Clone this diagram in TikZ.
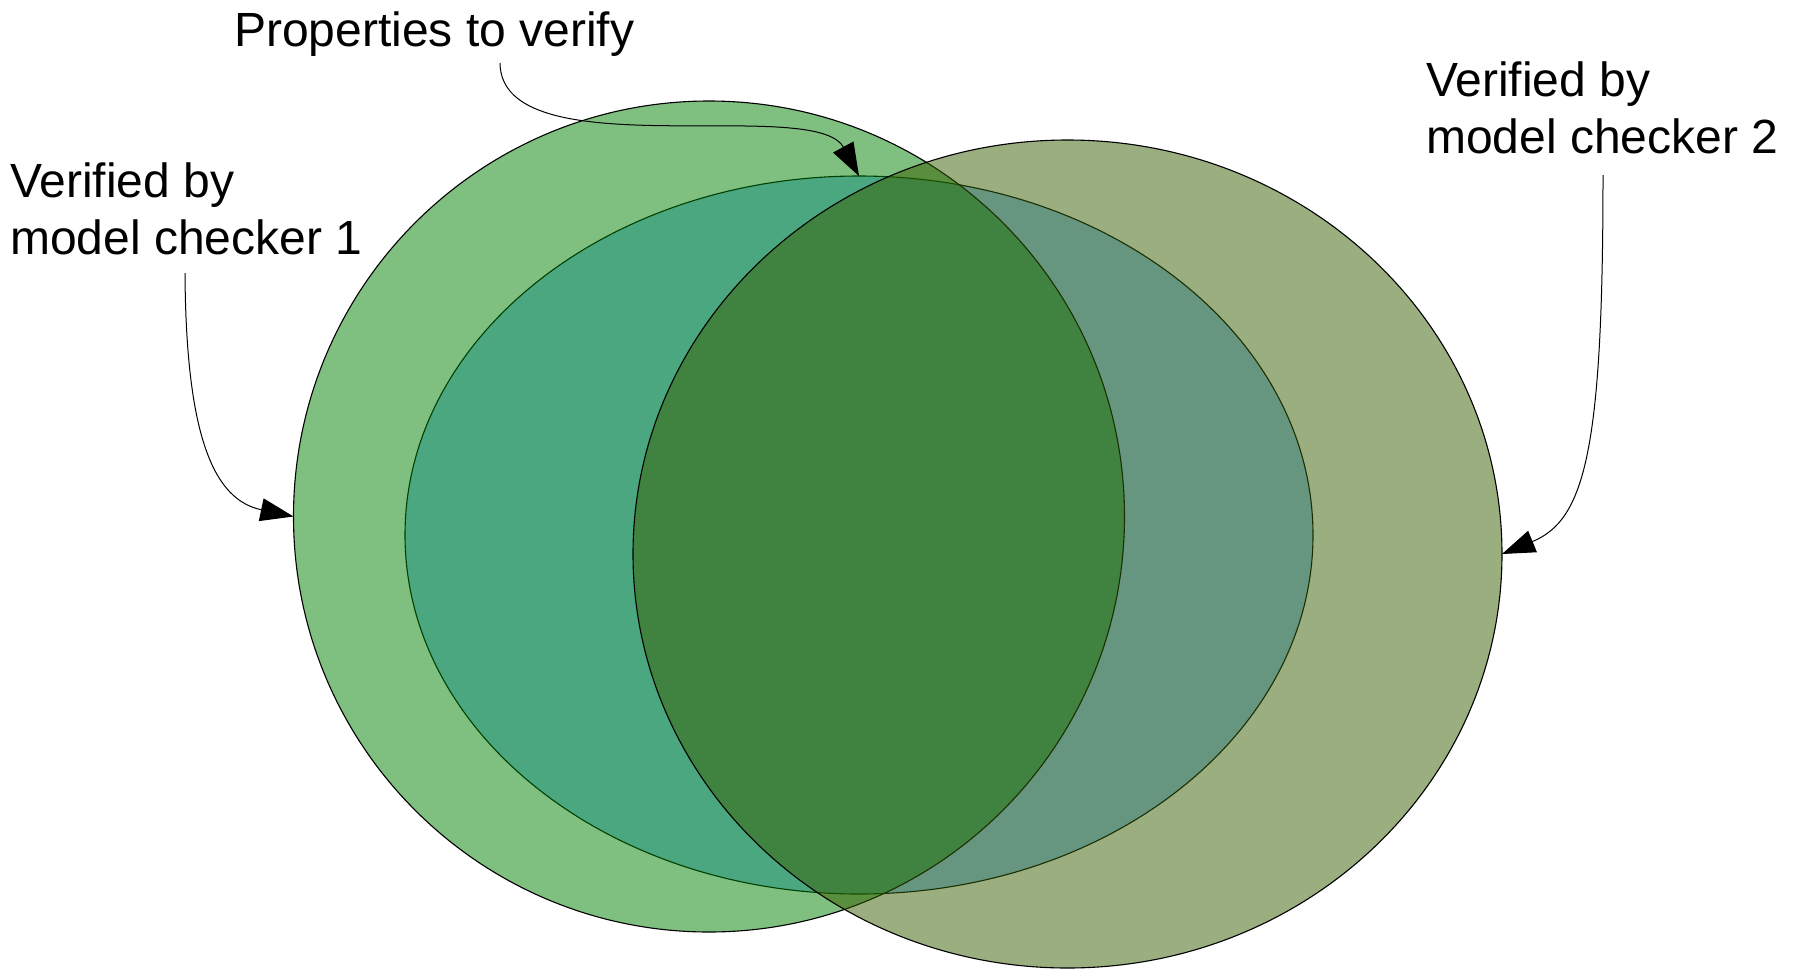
\documentclass[tikz,border=0pt]{standalone}
\usepackage{fontspec}
\setmainfont{Liberation Sans}
\usetikzlibrary{arrows.meta,shapes.geometric}
\definecolor{propblue}{RGB}{150,207,255}
\definecolor{mconegreen}{RGB}{0,128,0}
\definecolor{mctwoolive}{RGB}{55,94,0}
\begin{document}
\begin{tikzpicture}[x=1pt,y=-1pt,
  setshape/.style={ellipse, draw=black, line width=1.1pt, inner sep=0pt, outer sep=0pt},
  lbl/.style={font=\fontsize{48}{57.5}\selectfont, align=left, inner sep=0pt, anchor=base west},
  pointer/.style={draw=black, line width=1pt, -{Triangle[length=33pt,width=23pt]}}]
\fill[white] (0,0) rectangle (1800,970);
\useasboundingbox (0,0) rectangle (1800,970);
\node[setshape, fill=propblue, minimum width=908pt, minimum height=718pt] (props) at (859,535) {};
\node[setshape, fill=mconegreen, fill opacity=0.5, minimum width=831pt, minimum height=831pt] (mc1) at (709,516.5) {};
\node[setshape, fill=mctwoolive, fill opacity=0.5, minimum width=869pt, minimum height=828pt] (mc2) at (1067.5,554) {};
\node[lbl] (plabel) at (234,46) {Properties to verify};
\node[lbl] (l1label) at (10,254.5) {Verified by\\model checker 1};
\node[lbl] (l2label) at (1426,153.5) {Verified by\\model checker 2};
\coordinate (pstart) at (500,63);
\coordinate (l1start) at (185,273);
\coordinate (l2start) at (1603,175);
\draw[pointer] (pstart) .. controls (501,170) and (815,95) .. (props.north);
\draw[pointer] (l1start) .. controls (186,440) and (215,500) .. (mc1.west);
\draw[pointer] (l2start) .. controls (1603,450) and (1585,520) .. (mc2.east);
\end{tikzpicture}
\end{document}
